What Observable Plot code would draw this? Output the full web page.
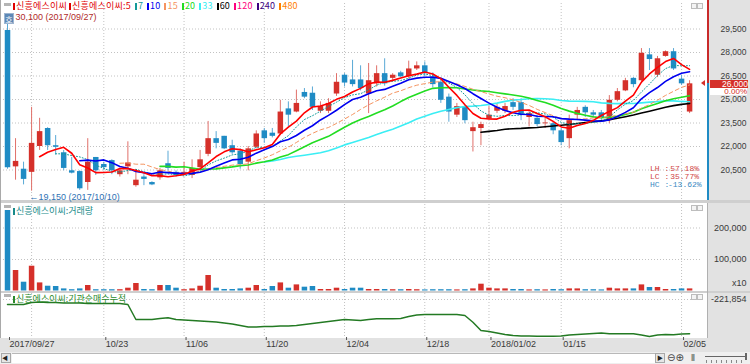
<!DOCTYPE html>
<html><head><meta charset="utf-8">
<script src="https://cdn.jsdelivr.net/npm/d3@7"></script>
<script src="https://cdn.jsdelivr.net/npm/@observablehq/plot@0.6"></script>
<style>
html,body{margin:0;padding:0;background:#fff;}
#wrap{position:relative;width:750px;height:364px;overflow:hidden;background:#e2e2e2;}
.a{position:absolute;}
.t{position:absolute;white-space:nowrap;font-family:"Noto Sans CJK KR","Noto Sans",sans-serif;font-size:9px;line-height:10px;}
.s{position:absolute;left:0;}
.s svg{display:block;}
.lg{margin-left:4px;}
</style></head><body><div id="wrap"></div>
<script>
// ---------------- data ----------------
const stockName = "신흥에스이씨";
const volName = "거래량";
const instName = "기관순매수누적";
const dates = ["2017-09-27","2017-09-28","2017-09-29","2017-10-10","2017-10-11","2017-10-12","2017-10-13","2017-10-16","2017-10-17","2017-10-18","2017-10-19","2017-10-20","2017-10-23","2017-10-24","2017-10-25","2017-10-26","2017-10-27","2017-10-30","2017-10-31","2017-11-01","2017-11-02","2017-11-03","2017-11-06","2017-11-07","2017-11-08","2017-11-09","2017-11-10","2017-11-13","2017-11-14","2017-11-15","2017-11-16","2017-11-17","2017-11-20","2017-11-21","2017-11-22","2017-11-23","2017-11-24","2017-11-27","2017-11-28","2017-11-29","2017-11-30","2017-12-01","2017-12-04","2017-12-05","2017-12-06","2017-12-07","2017-12-08","2017-12-11","2017-12-12","2017-12-13","2017-12-14","2017-12-15","2017-12-18","2017-12-19","2017-12-20","2017-12-21","2017-12-22","2017-12-26","2017-12-27","2017-12-28","2018-01-02","2018-01-03","2018-01-04","2018-01-05","2018-01-08","2018-01-09","2018-01-10","2018-01-11","2018-01-12","2018-01-15","2018-01-16","2018-01-17","2018-01-18","2018-01-19","2018-01-22","2018-01-23","2018-01-24","2018-01-25","2018-01-26","2018-01-29","2018-01-30","2018-01-31","2018-02-01","2018-02-02","2018-02-05","2018-02-06"];
const opens = [29400,20700,20550,20350,22000,23150,22050,21600,20450,20400,
 19700,21300,20850,21100,20200,20700,19500,20050,19700,20000,
 20900,20350,20200,20150,20650,21500,22500,22650,22050,21700,
 21000,21950,23000,22850,22800,24400,24200,25450,25400,24250,
 24250,25350,26550,26250,26250,25350,26000,26650,26350,26700,
 26450,26950,27150,26450,26100,25150,24000,24500,22950,23150,
 23750,24250,24250,24800,24800,23850,23800,23450,23450,23000,
 22500,24000,24500,24150,24150,23650,24950,25550,26350,26200,
 27850,26550,27750,28050,26300,24200];
const highs = [30100,22500,21000,24500,23800,23200,22700,21750,21300,20450,
 22500,21300,21000,21150,20600,22300,20500,20200,19750,20600,
 21700,20450,21000,21150,21750,23600,22950,22650,22400,21850,
 22000,23000,23150,23150,24950,24850,25600,25700,25800,24850,
 25050,26650,26650,27500,27150,27300,27150,27600,26650,26800,
 27450,27400,27400,26700,26350,25350,24750,24600,23550,23550,
 24550,24700,24750,25050,25050,24250,24000,23800,23600,23150,
 24000,24500,24600,24300,24300,25250,25700,26350,26400,28250,
 28250,27750,28100,28250,26550,26200];
const lows = [20550,19850,19550,19150,21750,21750,21450,20450,20250,19200,
 19200,20150,20450,20200,20050,20200,19400,19500,19500,19850,
 20450,20050,20150,19950,20450,21350,21850,21800,21500,20550,
 20450,21850,22200,22550,22700,23250,24150,25050,24300,24100,
 24100,25200,25800,25800,25550,24100,25800,25850,26200,26400,
 26300,26850,26450,25750,24750,23550,23850,23450,21650,22050,
 23700,24100,24100,24300,23650,23250,23250,23150,22750,22050,
 21850,23650,23850,23800,23650,23450,24850,25500,25750,26150,
 26850,26400,27700,26850,25900,24100];
const closes = [20650,21050,19900,22200,22950,22050,21950,20600,20300,19300,
 21000,20450,20650,20450,20450,20950,19850,19900,19550,20450,
 20600,20150,20350,20600,21150,22500,22200,21850,21600,20850,
 21850,22800,22500,22650,24200,24000,24750,25150,24500,24550,
 24750,26100,26050,25950,25700,26200,26650,26000,26550,26450,
 26950,27150,26650,25950,24950,24200,24550,23650,23200,23400,
 24000,24500,24550,24500,24000,24100,23400,23500,23000,22250,
 23650,24300,24150,24000,23800,24950,25500,26200,25950,27950,
 27550,27600,28050,26950,26000,26000];
// volume, in units of 10 shares
const volumes = [255600,65100,27900,78700,25700,15200,14300,6700,4100,6700,
 17500,4100,4100,4100,4100,8900,23800,4800,4100,17500,
 17500,8900,4100,6700,15200,49200,8900,4800,4800,6700,
 8900,17500,4800,14300,25700,8900,19400,12100,14300,4800,
 4800,8900,4800,8900,8900,4800,4800,4800,4100,4100,
 4800,4100,3500,4100,4100,4100,3500,4100,6700,21600,
 8900,6700,6700,4800,4800,3500,4100,3500,4800,4100,
 6700,6700,4100,4100,3500,8900,6700,6700,6700,19400,
 11100,11100,4800,4800,6700,6700];
// institutional cumulative net buying
const instCum = [-322000,-322000,-322000,-282000,-272000,-282000,-282000,-292000,-292000,-292000,
 -302000,-302000,-302000,-302000,-302000,-322000,-622000,-622000,-622000,-602000,
 -588000,-622000,-632000,-642000,-652000,-662000,-672000,-692000,-712000,-742000,
 -772000,-772000,-762000,-762000,-752000,-752000,-742000,-722000,-702000,-682000,
 -662000,-642000,-622000,-632000,-642000,-622000,-608000,-608000,-608000,-602000,
 -562000,-532000,-522000,-522000,-522000,-522000,-522000,-542000,-676000,-842000,
 -862000,-892000,-922000,-942000,-952000,-952000,-956000,-956000,-956000,-952000,
 -932000,-922000,-912000,-902000,-892000,-908000,-908000,-908000,-908000,-932000,
 -962000,-932000,-922000,-928000,-912000,-908000];
const maPeriods = [5,7,10,15,20,33,60];
const legendPeriods = [5,7,10,15,20,33,60,120,240,480];
const priceTicks = [20500,22000,23500,25000,26500,28000,29500];
const volTicks = [100000,200000];
const instTicks = [-221854];
const tickDates = ["2017-09-27","2017-10-23","2017-11-06","2017-11-20","2017-12-04","2017-12-18","2018-01-02","2018-01-15","2018-02-05"];
const tickLabels = ["2017/09/27","10/23","11/06","11/20","12/04","12/18","2018/01/02","01/15","02/05"];
const gridDates = ["2017-10-10","2017-10-23","2017-11-06","2017-11-20","2017-12-04","2017-12-18","2018-01-02","2018-01-15","2018-02-05"];

// ---------------- styles ----------------
const RED = "#d5302a", BLUE = "#1f8bc4", REDW = "#e0706a", BLUEW = "#5aa9d6";
const maStyle = {5:{c:"#ff0000",w:1.6},7:{c:"#139a9a",w:1,d:"1,2"},10:{c:"#0000f0",w:1.6},15:{c:"#f59460",w:1,d:"4,3"},20:{c:"#22dd22",w:1.6},33:{c:"#3beef4",w:1.6},60:{c:"#000000",w:1.6},120:{c:"#ff0080"},240:{c:"#3c0080"},480:{c:"#ff8000"}};
const drawOrder = [33,60,20,15,7,10,5];

const rows = dates.map((d,i)=>({i, date:d, o:opens[i], h:highs[i], l:lows[i], c:closes[i], v:volumes[i], inst:instCum[i], up: closes[i] >= opens[i]}));
const tickIdx = tickDates.map(d=>dates.indexOf(d));
const gridIdx = gridDates.map(d=>dates.indexOf(d));
const fmt = d => d.toLocaleString("en-US");

const wrap = document.getElementById("wrap");
function box(l,t,w,h,css){const d=document.createElement("div");d.className="a";Object.assign(d.style,{left:l+"px",top:t+"px",width:w+"px",height:h+"px"},css||{});wrap.appendChild(d);return d;}
function txt(l,t,html,css){const d=document.createElement("div");d.className="t";d.style.left=l+"px";d.style.top=t+"px";d.innerHTML=html;Object.assign(d.style,css||{});wrap.appendChild(d);return d;}
function place(svg,top){const d=document.createElement("div");d.className="s";d.style.top=top+"px";d.appendChild(svg);wrap.appendChild(d);}

// backgrounds
box(0,0,707,200,{background:"#fff"});
box(0,200,750,3,{background:"#cfcfcf"});
box(0,203,707,88,{background:"#fff"});
box(0,291,750,2,{background:"#cfcfcf"});
box(0,293,707,45,{background:"#fff"});
box(0,0,1,338,{background:"#a9a9a9"});
box(707,203,1,135,{background:"#b0b0b0"});

const sharedX = {domain:[-0.5,86.36], range:[3,700]};
const grid = {stroke:"#c2c2c2", strokeDasharray:"1,2"};
const baseStyle = {background:"transparent", fontFamily:"Liberation Sans, Arial, sans-serif", fontSize:"9px", color:"#3a3a3a", overflow:"visible"};

// ---------------- main price pane ----------------
const lowRow = rows.reduce((a,b)=> b.l < a.l ? b : a);
const highRow = rows.reduce((a,b)=> b.h > a.h ? b : a);
const maMarks = drawOrder.map(k => Plot.lineY(rows, Plot.windowY({k, anchor:"end", strict:true, reduce:"mean"},
  {x:"i", y:"c", stroke:maStyle[k].c, strokeWidth:maStyle[k].w, strokeDasharray:maStyle[k].d})));
const main = Plot.plot({
  width:750, height:201, marginTop:3, marginBottom:1, marginLeft:3, marginRight:50,
  style: baseStyle,
  x: {...sharedX, axis:null},
  y: {domain:[18553,31128], range:[200,3]},
  marks: [
    Plot.ruleY(priceTicks, grid),
    Plot.ruleX(gridIdx, grid),
    Plot.ruleX(rows, {filter:d=>d.up, x:"i", y1:"l", y2:"h", stroke:REDW}),
    Plot.ruleX(rows, {filter:d=>!d.up, x:"i", y1:"l", y2:"h", stroke:BLUEW}),
    Plot.ruleX(rows, {filter:d=>d.up, x:"i", y1:"o", y2:"c", stroke:RED, strokeWidth:5.5}),
    Plot.ruleX(rows, {filter:d=>!d.up, x:"i", y1:"o", y2:"c", stroke:BLUE, strokeWidth:5.5}),
    ...maMarks,
    Plot.axisY({anchor:"right", label:null, ticks:priceTicks, tickSize:0, tickPadding:0, dx:46, textAnchor:"end", tickFormat:fmt, fill:"#3a3a3a", fontSize:8.5}),
    Plot.text([lowRow], {x:"i", y:"l", dx:-2, dy:6, textAnchor:"start", fill:"#2f72b4",
      text: d => "←" + fmt(d.l) + " (" + d.date.replace(/-/g,"/") + ")"}),
    Plot.text([highRow], {x:"i", y:"h", dx:8, dy:-2, textAnchor:"start", fill:"#b02a2a",
      text: d => fmt(d.h) + " (" + d.date.replace(/-/g,"/") + ")"})
  ]
});
place(main, 0);

// ---------------- volume pane ----------------
const vol = Plot.plot({
  width:750, height:88, marginTop:1, marginBottom:0.5, marginLeft:3, marginRight:50,
  style: baseStyle,
  x: {...sharedX, axis:null},
  y: {domain:[0,274600], range:[87.5,1]},
  marks: [
    Plot.ruleY(volTicks, grid),
    Plot.ruleX(gridIdx, grid),
    Plot.ruleX(rows, {filter:d=>d.up, x:"i", y1:0, y2:"v", stroke:RED, strokeWidth:5.5}),
    Plot.ruleX(rows, {filter:d=>!d.up, x:"i", y1:0, y2:"v", stroke:BLUE, strokeWidth:5.5}),
    Plot.axisY({anchor:"right", label:null, ticks:volTicks, tickSize:0, tickPadding:0, dx:46, textAnchor:"end", tickFormat:fmt, fill:"#3a3a3a"}),
    Plot.text(["x10"], {frameAnchor:"bottom-right", dx:46, dy:-5, textAnchor:"end", fill:"#3a3a3a"})
  ]
});
place(vol, 203);

// ---------------- institutional pane + date axis ----------------
const inst = Plot.plot({
  width:750, height:59, marginTop:0, marginBottom:14, marginLeft:3, marginRight:50,
  style: baseStyle,
  x: sharedX,
  y: {domain:[-1001854,-101854], range:[45,0]},
  marks: [
    Plot.ruleY(instTicks, grid),
    Plot.ruleX(gridIdx, grid),
    Plot.lineY(rows, {x:"i", y:"inst", stroke:"#237a23", strokeWidth:1.5}),
    Plot.axisY({anchor:"right", label:null, ticks:instTicks, tickSize:0, tickPadding:0, dx:46, textAnchor:"end", tickFormat:fmt, fill:"#3a3a3a"}),
    Plot.axisX({anchor:"bottom", label:null, ticks:tickIdx, tickFormat:d=>tickLabels[tickIdx.indexOf(d)], tickSize:3, tickPadding:0, dy:-1, textAnchor:"start", dx:2, fill:"#3a3a3a", stroke:"#555"})
  ]
});
place(inst, 293);

// ---------------- overlays ----------------
const bar = c => `<i style="display:inline-block;width:2px;height:7px;background:${c};margin-right:1px;vertical-align:-1px"></i>`;
let legend = `<span style="color:#e00000">${bar("#e00000")}${stockName} ${bar("#e00000")}${stockName}:${legendPeriods[0]}</span>`;
for (const p of legendPeriods.slice(1)) legend += `<span class="lg" style="color:${maStyle[p].c}">${bar(maStyle[p].c)}${p}</span>`;
txt(13, 1, legend, {letterSpacing:"0.2px"});
txt(13, 206, `<span style="color:#178a8a">${bar("#178a8a")}${stockName}:${volName}</span>`);
txt(13, 294, `<span style="color:#2b8a2b">${bar("#2b8a2b")}${stockName}:${instName}</span>`);

// pane handles and buttons
for (const t of [3,205,294]) {
  box(4,t,7,3,{background:"#b4b4b4"});
  box(691,t,4,4,{border:"1px solid #bdbdbd",background:"#f4f4f4"});
  box(697,t,4,4,{border:"1px solid #bdbdbd",background:"#f4f4f4"});
}
txt(4,13,"호",{width:"10px",height:"11px",background:"#5d88b6",color:"#fff",fontSize:"8px",lineHeight:"11px",textAlign:"center",border:"1px solid #9db5d0",boxSizing:"border-box"});

// current price marker
const yS = main.scale("y");
const lastClose = closes[closes.length-1], prevClose = closes[closes.length-2];
const yc = yS.apply(lastClose);
box(707,0,2,yc,{background:"#c82a2a"});
box(707,yc,2,200-yc,{background:"#1f8bc4"});
box(701,yc-3,0,0,{borderRight:"4px solid #d5302a",borderTop:"3px solid transparent",borderBottom:"3px solid transparent",width:"0px",height:"0px"});
txt(710,yc-3.5,fmt(lastClose),{width:"38px",height:"8px",lineHeight:"8px",fontSize:"8.5px",background:"#d5302a",color:"#fff",textAlign:"right",fontFamily:"Liberation Sans, sans-serif"});
txt(710,yc+5,((lastClose/prevClose-1)*100).toFixed(2)+"%",{width:"37px",height:"7px",lineHeight:"7px",fontSize:"8px",background:"#fff",color:"#d5302a",textAlign:"right",fontFamily:"Liberation Sans, sans-serif"});

// LH / LC / HC
const LH = (highRow.h/lowRow.l-1)*100, LC = (lastClose/lowRow.l-1)*100, HC = (lastClose/highRow.h-1)*100;
const stat = [["LH",LH,"#d04545"],["LC",LC,"#d04545"],["HC",HC,"#3a8ac2"]];
stat.forEach(([k,v,c],j)=>{
  txt(650,165+j*8,k+" :",{color:c,fontFamily:"Liberation Mono, monospace",fontSize:"8px",lineHeight:"8px"});
  txt(668,165+j*8,v.toFixed(2)+"%",{color:c,fontFamily:"Liberation Mono, monospace",fontSize:"8px",lineHeight:"8px",width:"31px",textAlign:"right"});
});

// scrollbar row
box(0,352,750,12,{background:"#efefef"});
box(1,353,10,10,{background:"#e6e6e6",border:"1px solid #a8a8a8",boxSizing:"border-box"});
txt(2,353,"◀",{fontSize:"6px",color:"#222",lineHeight:"10px"});
box(12,353,643,10,{background:"#fff",borderTop:"1px solid #b8b8b8",boxSizing:"border-box"});
box(655,353,10,10,{background:"#e6e6e6",border:"1px solid #a8a8a8",boxSizing:"border-box"});
txt(657,353,"▶",{fontSize:"6px",color:"#222",lineHeight:"10px"});
txt(667,352,"⊖⊕",{fontSize:"10px",color:"#444",lineHeight:"12px",fontFamily:"DejaVu Sans, sans-serif"});
txt(691,352,"⦀",{fontSize:"9px",color:"#444",lineHeight:"12px",fontFamily:"DejaVu Sans, sans-serif"});
box(705,356,42,1,{background:"#666"});
box(745,353,2,7,{background:"#666"});
for (let k=0;k<8;k++) box(706+k*5,360,1,3,{background:"#888"});
</script></body></html>
